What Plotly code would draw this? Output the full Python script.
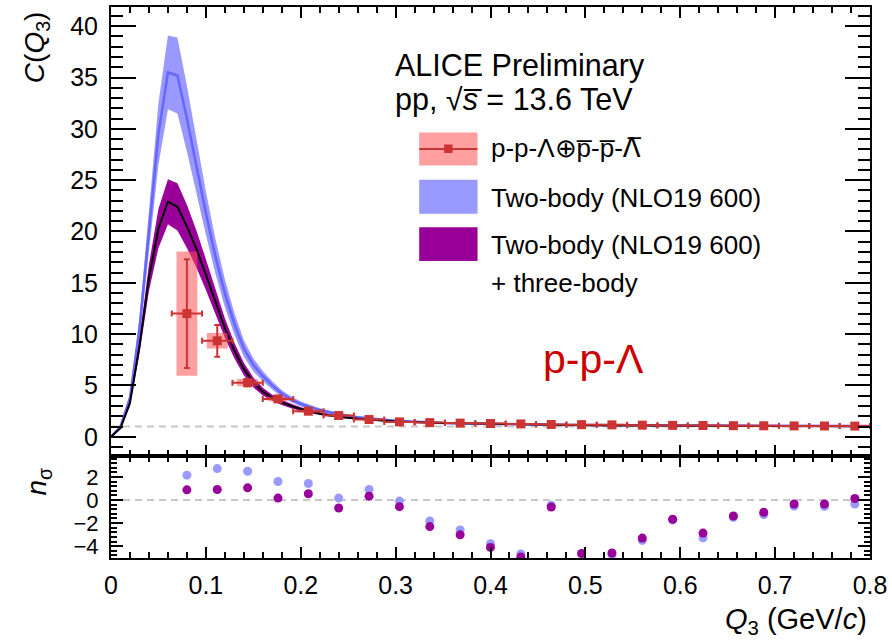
import plotly.graph_objects as go

# ---------------- data ----------------
q_model = [0.00, 0.01, 0.02, 0.03, 0.04, 0.05, 0.06, 0.07, 0.08, 0.09, 0.10,
           0.11, 0.12, 0.13, 0.14, 0.15, 0.16, 0.17, 0.18, 0.19, 0.20,
           0.22, 0.24, 0.26, 0.28, 0.30, 0.35, 0.40, 0.45, 0.50, 0.60, 0.70, 0.80]

blue_c = [0.0, 1.0, 3.8, 10.5, 20.0, 29.5, 35.5, 35.2, 31.0, 26.3, 21.8,
          17.6, 14.0, 11.0, 8.6, 7.0, 5.9, 5.0, 4.2, 3.65, 3.2,
          2.6, 2.2, 1.9, 1.7, 1.55, 1.35, 1.25, 1.18, 1.14, 1.09, 1.06, 1.04]
blue_err = [0.0, 0.1, 0.4, 1.1, 2.0, 3.0, 3.6, 3.7, 3.2, 2.6, 2.1,
            1.7, 1.35, 1.05, 0.8, 0.65, 0.5, 0.4, 0.33, 0.28, 0.24,
            0.18, 0.14, 0.11, 0.09, 0.07, 0.05, 0.04, 0.03, 0.03, 0.02, 0.02, 0.02]

purple_c = [0.0, 0.85, 3.3, 8.8, 15.5, 20.3, 22.9, 22.4, 20.5, 18.3, 15.8,
            13.2, 10.6, 8.4, 6.6, 5.3, 4.4, 3.8, 3.35, 3.0, 2.7,
            2.25, 1.95, 1.75, 1.6, 1.5, 1.33, 1.24, 1.17, 1.13, 1.08, 1.05, 1.03]
purple_err = [0.0, 0.05, 0.25, 0.7, 1.3, 1.9, 2.2, 2.3, 2.1, 1.8, 1.5,
              1.2, 0.95, 0.75, 0.6, 0.48, 0.38, 0.3, 0.25, 0.21, 0.18,
              0.13, 0.1, 0.08, 0.07, 0.06, 0.04, 0.03, 0.03, 0.02, 0.02, 0.02, 0.02]

q_data = [0.080, 0.112, 0.144, 0.176, 0.208, 0.240, 0.272, 0.304, 0.336, 0.368,
          0.400, 0.432, 0.464, 0.496, 0.528, 0.560, 0.592, 0.624, 0.656, 0.688,
          0.720, 0.752, 0.784]
c_data = [12.0, 9.35, 5.27, 3.69, 2.49, 2.07, 1.68, 1.45, 1.38, 1.33,
          1.29, 1.25, 1.20, 1.18, 1.16, 1.13, 1.11, 1.10, 1.08, 1.07,
          1.06, 1.05, 1.04]
stat_err = [5.3, 1.55, 0.35, 0.2, 0.12, 0.08, 0.06, 0.05, 0.04, 0.03,
            0.03, 0.02, 0.02, 0.02, 0.02, 0.02, 0.02, 0.02, 0.02, 0.02,
            0.02, 0.02, 0.02]
syst_err = [6.05, 0.75, 0.35, 0.22, 0.15, 0.1, 0.08, 0.06, 0.05, 0.04,
            0.04, 0.03, 0.03, 0.03, 0.03, 0.03, 0.03, 0.03, 0.03, 0.03,
            0.03, 0.03, 0.03]
q_halfbin = [0.016] * len(q_data)
syst_halfwidth = 0.011

nsig_blue = [2.16, 2.73, 2.5, 1.61, 1.44, 0.17, 0.92, -0.09, -1.81, -2.59,
             -3.79, -4.68, -0.46, -4.68, -4.74, -3.5, -1.72, -3.28, -1.49, -1.26,
             -0.52, -0.55, -0.34]
nsig_purple = [0.89, 0.92, 1.06, 0.17, 0.55, -0.69, 0.34, -0.57, -2.3, -3.02,
               -4.11, -4.94, -0.6, -4.63, -4.6, -3.3, -1.67, -2.87, -1.38, -1.06,
               -0.34, -0.34, 0.14]

x_range = [0.0, 0.8]
top_y_range = [-1.88, 41.87]
bot_y_range = [-5.03, 3.82]

# ---------------- style ----------------
FONT = "Liberation Sans, Arial, Helvetica, sans-serif"
BLUE_BAND = "#9999ff"
BLUE_LINE = "#6666ff"
PURPLE = "#990099"
RED = "#cc3333"
PINK = "rgba(255,80,80,0.55)"

W, H = 892, 643
L, R, T, B = 111, 20, 5, 85
PW = W - L - R
PH = H - T - B
split = (H - B - 455.7) / PH


def px(xp):
    return (xp - L) / PW


def py(yp):
    return (H - B - yp) / PH


fig = go.Figure()

# Two-body band + line
fig.add_trace(go.Scatter(x=q_model, y=[c - e for c, e in zip(blue_c, blue_err)],
                         mode="lines", line=dict(width=0), showlegend=False,
                         xaxis="x2", yaxis="y2", hoverinfo="skip"))
fig.add_trace(go.Scatter(x=q_model, y=[c + e for c, e in zip(blue_c, blue_err)],
                         mode="lines", line=dict(width=0), fill="tonexty",
                         fillcolor=BLUE_BAND, showlegend=False,
                         xaxis="x2", yaxis="y2", hoverinfo="skip"))
fig.add_trace(go.Scatter(x=q_model, y=blue_c, mode="lines",
                         line=dict(color=BLUE_LINE, width=2.5), showlegend=False,
                         xaxis="x2", yaxis="y2"))

# Two-body + three-body band + line
fig.add_trace(go.Scatter(x=q_model, y=[c - e for c, e in zip(purple_c, purple_err)],
                         mode="lines", line=dict(width=0), showlegend=False,
                         xaxis="x2", yaxis="y2", hoverinfo="skip"))
fig.add_trace(go.Scatter(x=q_model, y=[c + e for c, e in zip(purple_c, purple_err)],
                         mode="lines", line=dict(width=0), fill="tonexty",
                         fillcolor=PURPLE, showlegend=False,
                         xaxis="x2", yaxis="y2", hoverinfo="skip"))
fig.add_trace(go.Scatter(x=q_model, y=purple_c, mode="lines",
                         line=dict(color="black", width=2), showlegend=False,
                         xaxis="x2", yaxis="y2"))

# systematic boxes
bx, by = [], []
for q, c, s in zip(q_data, c_data, syst_err):
    bx += [q - syst_halfwidth, q + syst_halfwidth, q + syst_halfwidth, q - syst_halfwidth, q - syst_halfwidth, None]
    by += [c - s, c - s, c + s, c + s, c - s, None]
fig.add_trace(go.Scatter(x=bx, y=by, mode="lines", fill="toself", fillcolor=PINK,
                         line=dict(width=0), showlegend=False,
                         xaxis="x2", yaxis="y2", hoverinfo="skip"))

# data
fig.add_trace(go.Scatter(x=q_data, y=c_data, mode="markers",
                         marker=dict(symbol="square", size=9, color=RED),
                         error_y=dict(type="data", array=stat_err, color=RED, thickness=2, width=3),
                         error_x=dict(type="data", array=q_halfbin, color=RED, thickness=2, width=3),
                         showlegend=False, xaxis="x2", yaxis="y2"))

# n sigma panel
fig.add_trace(go.Scatter(x=q_data, y=nsig_blue, mode="markers",
                         marker=dict(symbol="circle", size=9, color=BLUE_BAND),
                         showlegend=False, xaxis="x", yaxis="y"))
fig.add_trace(go.Scatter(x=q_data, y=nsig_purple, mode="markers",
                         marker=dict(symbol="circle", size=9, color=PURPLE),
                         showlegend=False, xaxis="x", yaxis="y"))

shapes = [
    dict(type="line", xref="x2", yref="y2", x0=x_range[0], x1=x_range[1], y0=1, y1=1,
         line=dict(color="#c8c8c8", width=2, dash="7px,5px"), layer="below"),
    dict(type="line", xref="x", yref="y", x0=x_range[0], x1=x_range[1], y0=0, y1=0,
         line=dict(color="#c8c8c8", width=2, dash="7px,5px"), layer="below"),
]

# legend (drawn manually)
legend_boxes = [(131, 164, PINK), (178.5, 212.5, BLUE_BAND), (226, 260, PURPLE)]
for y0, y1, col in legend_boxes:
    shapes.append(dict(type="rect", xref="paper", yref="paper",
                       x0=px(420), x1=px(478.5), y0=py(y1), y1=py(y0),
                       fillcolor=col, line=dict(width=0)))
shapes.append(dict(type="line", xref="paper", yref="paper", x0=px(420), x1=px(478.5),
                   y0=py(147.5), y1=py(147.5), line=dict(color=RED, width=2)))
shapes.append(dict(type="rect", xref="paper", yref="paper", x0=px(445), x1=px(453.5),
                   y0=py(151.5), y1=py(143), fillcolor=RED, line=dict(width=0)))

annotations = [
    dict(text="ALICE Preliminary", x=px(394), y=py(63.5), xanchor="left", yanchor="middle",
         font=dict(size=30.5, family=FONT, color="black")),
    dict(text="pp, √<i>s\u0305</i> = 13.6 TeV", x=px(394), y=py(98), xanchor="left", yanchor="middle",
         font=dict(size=30.5, family=FONT, color="black")),
    dict(text="p-p-Λ⊕p\u0305-p\u0305-<span style='font-family:DejaVu Sans'>Λ\u0305</span>",
         x=px(490), y=py(147), xanchor="left", yanchor="middle",
         font=dict(size=26, family=FONT, color="black")),
    dict(text="Two-body (NLO19 600)", x=px(490), y=py(197), xanchor="left", yanchor="middle",
         font=dict(size=26, family=FONT, color="black")),
    dict(text="Two-body (NLO19 600)", x=px(490), y=py(244), xanchor="left", yanchor="middle",
         font=dict(size=26, family=FONT, color="black")),
    dict(text="+ three-body", x=px(490), y=py(282.5), xanchor="left", yanchor="middle",
         font=dict(size=26, family=FONT, color="black")),
    dict(text="p-p-Λ", x=px(542), y=py(358), xanchor="left", yanchor="middle",
         font=dict(size=41, family=FONT, color="#cc0000")),
    dict(text="<i>C</i>(<i>Q</i><sub>3</sub>)", x=px(37), y=py(7), xanchor="center", yanchor="top",
         textangle=-90, font=dict(size=28, family=FONT, color="black")),
    dict(text="<i>n</i><sub>σ</sub>", x=px(38), y=py(481), xanchor="center", yanchor="middle",
         textangle=-90, font=dict(size=28, family=FONT, color="black")),
    dict(text="<i>Q</i><sub>3</sub> (GeV/<i>c</i>)", x=px(871), y=py(621), xanchor="right", yanchor="middle",
         font=dict(size=29, family=FONT, color="black")),
]
for a in annotations:
    a.update(xref="paper", yref="paper", showarrow=False)

xcommon = dict(range=x_range, showgrid=False, zeroline=False, showline=True, linewidth=2,
               linecolor="black", mirror="allticks", ticks="inside", ticklen=11, tickwidth=2,
               tickcolor="black", dtick=0.1, tick0=0,
               minor=dict(ticks="inside", ticklen=6, tickwidth=2, tickcolor="black", dtick=0.02, tick0=0))

fig.update_layout(
    width=W, height=H,
    margin=dict(l=L, r=R, t=T, b=B),
    paper_bgcolor="white", plot_bgcolor="white",
    showlegend=False,
    xaxis=dict(**xcommon, anchor="y", domain=[0, 1],
               tickfont=dict(size=25, family=FONT, color="black"), ticklabelstandoff=4),
    xaxis2=dict(**xcommon, anchor="y2", domain=[0, 1], matches="x", showticklabels=False),
    yaxis=dict(range=bot_y_range, domain=[0, split], anchor="x", showgrid=False, zeroline=False,
               showline=True, linewidth=2, linecolor="black", mirror="allticks", ticks="inside",
               ticklen=12, tickwidth=2, tickcolor="black", dtick=2, tick0=0,
               minor=dict(ticks="inside", ticklen=6, tickwidth=2, tickcolor="black", dtick=0.4, tick0=0),
               tickfont=dict(size=22, family=FONT, color="black"), ticklabelstandoff=6),
    yaxis2=dict(range=top_y_range, domain=[split, 1], anchor="x2", showgrid=False, zeroline=False,
                showline=True, linewidth=2, linecolor="black", mirror="allticks", ticks="inside",
                ticklen=25, tickwidth=2, tickcolor="black", dtick=5, tick0=0,
                minor=dict(ticks="inside", ticklen=12, tickwidth=2, tickcolor="black", dtick=1, tick0=0),
                tickfont=dict(size=25, family=FONT, color="black"), ticklabelstandoff=6),
    shapes=shapes,
    annotations=annotations,
)

fig.write_html("out.html")
